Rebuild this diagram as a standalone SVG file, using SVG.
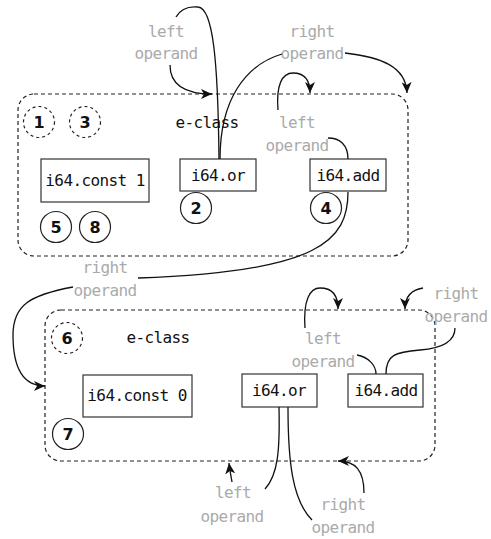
<svg xmlns="http://www.w3.org/2000/svg" width="491" height="539" viewBox="0 0 491 539">
<style>
.cls{fill:none;stroke:#222;stroke-width:1.2;stroke-dasharray:4,3}
.box{fill:#fff;stroke:#333;stroke-width:1.2}
.num{fill:#fff;stroke:#222;stroke-width:1.2}
.dnum{fill:#fff;stroke:#222;stroke-width:1.2;stroke-dasharray:3,3}
.t{font-family:"DejaVu Sans Mono",monospace;font-size:16px;letter-spacing:-0.6px;fill:#111}
.n{font-family:"DejaVu Sans",sans-serif;font-size:16px;font-weight:bold;fill:#111;text-anchor:middle}
.lbl{font-family:"DejaVu Sans Mono",monospace;font-size:16px;letter-spacing:-0.6px;fill:#aaa;text-anchor:middle}
.e{fill:none;stroke:#111;stroke-width:1.3}
</style>
<defs>
<marker id="ah" markerUnits="userSpaceOnUse" markerWidth="12" markerHeight="10" refX="11" refY="5" orient="auto">
<path d="M0,0 L11,5 L0,10 L3,5 z" fill="#111"/>
</marker>
</defs>
<rect width="491" height="539" fill="#fff"/>
<g id="eclass1">
<rect class="cls" x="18" y="94" width="390" height="162" rx="16"/>
<text class="t" x="207" y="128" text-anchor="middle">e-class</text>
</g>
<g id="eclass2">
<rect class="cls" x="45" y="310" width="390" height="151" rx="16"/>
<text class="t" x="158" y="343" text-anchor="middle">e-class</text>
</g>
<g id="c1"><circle class="dnum" cx="39" cy="122" r="15.5"/><text class="n" x="39" y="128">1</text></g>
<g id="c3"><circle class="dnum" cx="85" cy="122" r="15.5"/><text class="n" x="85" y="128">3</text></g>
<g id="const1"><rect class="box" x="41" y="159" width="108" height="43"/><text class="t" x="95" y="186" text-anchor="middle">i64.const 1</text></g>
<g id="c5"><circle class="num" cx="56" cy="227" r="15.5"/><text class="n" x="56" y="233">5</text></g>
<g id="c8"><circle class="num" cx="95" cy="227" r="15.5"/><text class="n" x="95" y="233">8</text></g>
<g id="or1"><rect class="box" x="180" y="159" width="76" height="32"/><text class="t" x="218" y="181" text-anchor="middle">i64.or</text></g>
<g id="c2"><circle class="num" cx="196" cy="208" r="15.5"/><text class="n" x="196" y="214">2</text></g>
<g id="add1"><rect class="box" x="310" y="159" width="76" height="32"/><text class="t" x="348" y="181" text-anchor="middle">i64.add</text></g>
<g id="c4"><circle class="num" cx="326" cy="208" r="15.5"/><text class="n" x="326" y="214">4</text></g>
<g id="c6"><circle class="dnum" cx="67" cy="338" r="15.5"/><text class="n" x="67" y="344">6</text></g>
<g id="const0"><rect class="box" x="83" y="375" width="109" height="42"/><text class="t" x="137" y="401" text-anchor="middle">i64.const 0</text></g>
<g id="c7"><circle class="num" cx="68" cy="434" r="15.5"/><text class="n" x="68" y="440">7</text></g>
<g id="or2"><rect class="box" x="242" y="374" width="75" height="33"/><text class="t" x="279" y="396" text-anchor="middle">i64.or</text></g>
<g id="add2"><rect class="box" x="348" y="374" width="75" height="33"/><text class="t" x="386" y="396" text-anchor="middle">i64.add</text></g>
<g id="labels">
<text class="lbl" x="166" y="37">left</text><text class="lbl" x="166" y="59">operand</text>
<text class="lbl" x="312" y="37">right</text><text class="lbl" x="312" y="59">operand</text>
<text class="lbl" x="297" y="128">left</text><text class="lbl" x="297" y="151">operand</text>
<text class="lbl" x="105" y="273">right</text><text class="lbl" x="105" y="296">operand</text>
<text class="lbl" x="323" y="344">left</text><text class="lbl" x="323" y="367">operand</text>
<text class="lbl" x="456" y="299">right</text><text class="lbl" x="456" y="322">operand</text>
<text class="lbl" x="233" y="498">left</text><text class="lbl" x="232" y="522">operand</text>
<text class="lbl" x="343" y="510">right</text><text class="lbl" x="343" y="533">operand</text>
</g>
<g id="connectors">
<path class="e" d="M170,65 C170,85 185,94 212,94" marker-end="url(#ah)"/>
<path class="e" d="M219,159 C218,60 213,8 198,7 C188,6 180,10 176,17"/>
<path class="e" d="M220,159 C220,100 245,65 282,54"/>
<path class="e" d="M345,53 C380,57 406,66 407,93" marker-end="url(#ah)"/>
<path class="e" d="M278,110 C276,85 282,73 293,73 C305,73 310,80 310,93" marker-end="url(#ah)"/>
<path class="e" d="M328,138 C340,138 348,145 348,159"/>
<path class="e" d="M348,192 C348,240 320,272 138,278"/>
<path class="e" d="M73,287 C30,295 13,305 13,335 C13,370 25,386 45,386" marker-end="url(#ah)"/>
<path class="e" d="M279,407 C280,450 278,475 265,489"/>
<path class="e" d="M288,407 C288,460 292,500 312,520"/>
<path class="e" d="M232,482 C231,476 230,472 229,463" marker-end="url(#ah)"/>
<path class="e" d="M364,493 C364,470 355,461 338,461" marker-end="url(#ah)"/>
<path class="e" d="M305,328 C303,300 310,288 320,288 C332,288 338,295 338,309" marker-end="url(#ah)"/>
<path class="e" d="M357,355 C368,357 376,365 376,374"/>
<path class="e" d="M386,374 C386,355 395,352 420,350 C445,348 455,340 455,328"/>
<path class="e" d="M423,288 C410,290 405,297 405,309" marker-end="url(#ah)"/>
</g>
</svg>
